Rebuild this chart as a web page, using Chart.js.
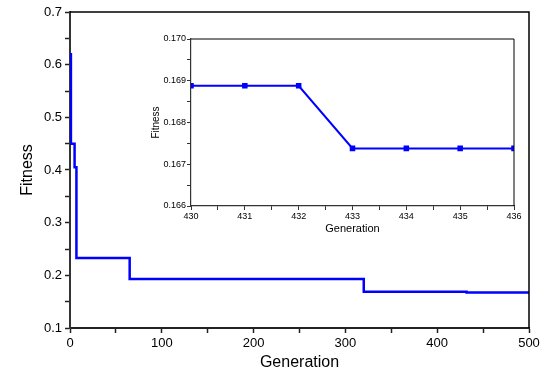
<!DOCTYPE html>
<html>
<head>
<meta charset="utf-8">
<script src="https://cdn.jsdelivr.net/npm/chart.js@4"></script>
<style>
  body { margin: 0; background: #fff; }
  #wrap { position: relative; width: 550px; height: 379px; }
  #mainChart { position: absolute; left: 0; top: 0; }
  #insetChart { position: absolute; left: 140px; top: 25px; }
</style>
</head>
<body>
<div id="wrap">
  <canvas id="mainChart" width="550" height="379"></canvas>
  <canvas id="insetChart" width="385" height="220"></canvas>
</div>
<script>
// main curve: generation where each fitness level starts
const generations = [0, 1, 5, 7, 65, 320, 432, 500];
const fitness = [0.62, 0.45, 0.405, 0.233, 0.193, 0.1689, 0.1674, 0.1674];

// zoomed part
const insetGenerations = [430, 431, 432, 433, 434, 435, 436];
const insetFitness = [0.16888, 0.16888, 0.16888, 0.16738, 0.16738, 0.16738, 0.16738];

const FONT = "'Liberation Sans', Arial, sans-serif";

// draws the top and right edges of the box
const framePlugin = {
  id: "frame",
  afterDraw(chart, args, opts) {
    const { ctx, chartArea: a } = chart;
    ctx.save();
    ctx.strokeStyle = "#000";
    ctx.lineWidth = opts.width || 1;
    ctx.beginPath();
    ctx.moveTo(a.left, a.top);
    ctx.lineTo(a.right, a.top);
    ctx.lineTo(a.right, a.bottom);
    ctx.stroke();
    ctx.restore();
  },
};

function isMultiple(v, step) {
  return Math.abs(v / step - Math.round(v / step)) < 1e-6;
}

new Chart(document.getElementById("mainChart"), {
  type: "line",
  data: {
    datasets: [
      {
        data: generations.map((g, i) => ({ x: g, y: fitness[i] })),
        borderColor: "#0000ff",
        borderWidth: 2.5,
        pointRadius: 0,
        stepped: true,
        fill: false,
      },
    ],
  },
  plugins: [framePlugin],
  options: {
    responsive: false,
    animation: false,
    layout: { padding: { left: 0, right: 21, top: 12, bottom: 0 } },
    plugins: { legend: { display: false }, tooltip: { enabled: false }, frame: { width: 1.5 } },
    scales: {
      x: {
        type: "linear",
        min: 0,
        max: 500,
        afterFit: (s) => { s.height = 51; },
        ticks: {
          stepSize: 50,
          autoSkip: false,
          maxRotation: 0,
          padding: 3,
          color: "#000",
          font: { family: FONT, size: 13 },
          callback: (v) => (isMultiple(v, 100) ? v : ""),
        },
        grid: { drawOnChartArea: false, drawTicks: true, tickLength: 5, tickColor: "#222", tickWidth: 1.5 },
        border: { color: "#222", width: 2 },
        title: { display: true, text: "Generation", color: "#000", font: { family: FONT, size: 16 }, padding: { bottom: 7 } },
      },
      y: {
        min: 0.1,
        max: 0.7,
        afterFit: (s) => { s.width = 70; },
        ticks: {
          stepSize: 0.05,
          autoSkip: false,
          padding: 3,
          color: "#000",
          font: { family: FONT, size: 13 },
          callback: (v) => (isMultiple(v, 0.1) ? v.toFixed(1) : ""),
        },
        grid: { drawOnChartArea: false, drawTicks: true, tickLength: 5, tickColor: "#222", tickWidth: 1.5 },
        border: { color: "#333", width: 2 },
        title: { display: true, text: "Fitness", color: "#000", font: { family: FONT, size: 16 }, padding: { top: 18 } },
      },
    },
  },
});

new Chart(document.getElementById("insetChart"), {
  type: "line",
  data: {
    datasets: [
      {
        data: insetGenerations.map((g, i) => ({ x: g, y: insetFitness[i] })),
        borderColor: "#0000ff",
        backgroundColor: "#0000ff",
        borderWidth: 2,
        pointStyle: "rect",
        pointRadius: 2.5,
        fill: false,
      },
    ],
  },
  plugins: [framePlugin],
  options: {
    responsive: false,
    animation: false,
    layout: { padding: { left: 0, right: 11, top: 14, bottom: 0 } },
    plugins: { legend: { display: false }, tooltip: { enabled: false }, frame: { width: 1 } },
    scales: {
      x: {
        type: "linear",
        min: 430,
        max: 436,
        afterFit: (s) => { s.height = 39; },
        ticks: {
          stepSize: 0.5,
          autoSkip: false,
          maxRotation: 0,
          padding: 1,
          color: "#000",
          font: { family: FONT, size: 9 },
          callback: (v) => (isMultiple(v, 1) ? v : ""),
        },
        grid: { drawOnChartArea: false, drawTicks: true, tickLength: 4, tickColor: "#333" },
        border: { color: "#333", width: 1.2 },
        title: { display: true, text: "Generation", color: "#000", font: { family: FONT, size: 11 }, padding: { bottom: 9 } },
      },
      y: {
        min: 0.166,
        max: 0.17,
        afterFit: (s) => { s.width = 51; },
        ticks: {
          stepSize: 0.0005,
          autoSkip: false,
          padding: 1,
          color: "#000",
          font: { family: FONT, size: 9 },
          callback: (v) => (isMultiple(v, 0.001) ? v.toFixed(3) : ""),
        },
        grid: { drawOnChartArea: false, drawTicks: true, tickLength: 4, tickColor: "#333" },
        border: { color: "#333", width: 1.2 },
        title: { display: true, text: "Fitness", color: "#000", font: { family: FONT, size: 10 }, padding: { top: 10 } },
      },
    },
  },
});
</script>
</body>
</html>
